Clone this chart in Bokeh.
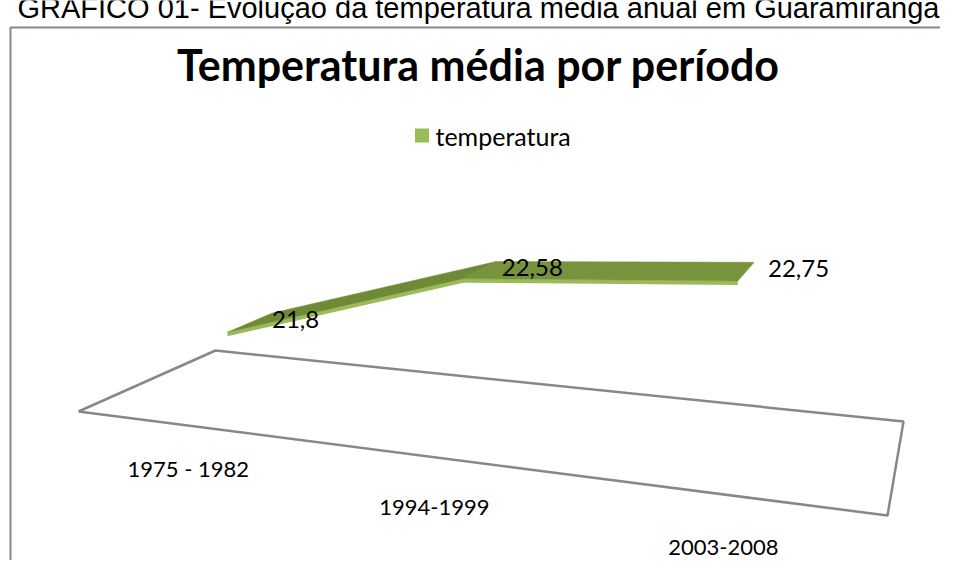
import numpy as np
from bokeh.plotting import figure
from bokeh.models import Range1d
from bokeh.core.properties import value
from bokeh.embed import file_html
from bokeh.resources import INLINE

# ---------------- data ----------------
caption = "GRÁFICO 01- Evolução da temperatura média anual em Guaramiranga"
chart_title = "Temperatura média por período"
series_name = "temperatura"
categories = ["1975 - 1982", "1994-1999", "2003-2008"]
temperatura = [21.8, 22.58, 22.75]
value_labels = ["21,8", "22,58", "22,75"]
axis_floor_value = 21.0

# ---------------- layout (picture pixel space) ----------------
W, H_ = 940, 560
FLOOR_FRONT_LEFT = (78, 411)
FLOOR_FRONT_RIGHT = (887, 515)
FLOOR_BACK_RIGHT = (903, 421)
FLOOR_BACK_LEFT = (215, 350)
RIBBON_FRONT, RIBBON_BACK = 0.28, 0.64
PX_PER_UNIT = 94.0
RIBBON_THICK = 4.0
LABEL_DEPTH = -0.5
LABEL_MAX_Y = 547

TOP_COLOR = "#77933C"
TOP_COLOR_2 = "#6E8A37"
FRONT_COLOR = "#9BBB59"
FLOOR_COLOR = "#888888"
TEXT_FONT = "Lato"


def solve_h(src, dst):
    A, b = [], []
    for (x, y), (X, Y) in zip(src, dst):
        A.append([x, y, 1, 0, 0, 0, -X * x, -X * y]); b.append(X)
        A.append([0, 0, 0, x, y, 1, -Y * x, -Y * y]); b.append(Y)
    h = np.linalg.solve(np.array(A, float), np.array(b, float))
    return np.append(h, 1.0).reshape(3, 3)


HM = solve_h([(0, 0), (1, 0), (1, 1), (0, 1)],
             [FLOOR_FRONT_LEFT, FLOOR_FRONT_RIGHT, FLOOR_BACK_RIGHT, FLOOR_BACK_LEFT])
n = len(categories)
Z_REF = (HM @ np.array([0.5, 0.5, 1.0]))[2]


def project(u, w, lift=0.0):
    s = np.atleast_1d(np.asarray(u, float)) / n
    w = np.broadcast_to(np.asarray(w, float), s.shape)
    lift = np.broadcast_to(np.asarray(lift, float), s.shape)
    vec = HM @ np.vstack([s, w, np.ones_like(s)])
    x = vec[0] / vec[2]
    y = vec[1] / vec[2]
    scale = Z_REF / vec[2]
    return x, y - lift * scale


p = figure(width=W, height=H_, x_range=Range1d(0, W), y_range=Range1d(H_, 0),
           output_backend="svg", toolbar_location=None, min_border=0)
p.axis.visible = False
p.grid.visible = False
p.outline_line_color = None
p.background_fill_color = "white"

# caption above the chart frame (its top is cut, as in the source)
p.text(x=[17], y=[7], text=[caption], text_font=value("Liberation Sans"),
       text_font_size="29px", text_color="black", text_baseline="middle", text_align="left")

# chart frame
p.line(x=[10, 10, 980], y=[620, 27, 27], line_color=FLOOR_COLOR, line_width=2)

# title
p.text(x=[478], y=[64], text=[chart_title], text_font=value(TEXT_FONT), text_font_style="bold",
       text_font_size="43px", text_color="black", text_baseline="middle", text_align="center")

# legend
p.rect(x=[421.5], y=[135], width=14, height=14, fill_color=FRONT_COLOR, line_color=None)
p.text(x=[435], y=[135], text=[series_name], text_font=value(TEXT_FONT), text_font_size="25px",
       text_color="black", text_baseline="middle", text_align="left")

# floor
u_floor = [0, n, n, 0, 0]
w_floor = [0, 0, 1, 1, 0]
fx, fy = project(u_floor, w_floor)
p.line(x=fx, y=fy, line_color=FLOOR_COLOR, line_width=2.5)

# ribbon
u_pts = np.arange(n) + 0.5
lift = (np.array(temperatura) - axis_floor_value) * PX_PER_UNIT
frx, fry = project(u_pts, RIBBON_FRONT, lift)
bkx, bky = project(u_pts, RIBBON_BACK, lift)

# front face (thin strip under front edge)
p.patch(x=np.concatenate([frx, frx[::-1]]), y=np.concatenate([fry, (fry + RIBBON_THICK)[::-1]]),
        fill_color=FRONT_COLOR, line_color=None)
for i in range(n - 1):
    col = TOP_COLOR_2 if i == 0 else TOP_COLOR
    p.patch(x=[frx[i], frx[i + 1], bkx[i + 1], bkx[i]], y=[fry[i], fry[i + 1], bky[i + 1], bky[i]],
            fill_color=col, line_color=col, line_width=0.5)

# value labels
mx = (frx + bkx) / 2
my = (fry + bky) / 2
p.text(x=mx + 22, y=my - 3, text=value_labels, text_font=value(TEXT_FONT), text_font_size="24px",
       text_color="black", text_baseline="middle", text_align="left")

# category labels
lx, _ = project(u_pts, 0.0)
_, ly = project(u_pts, LABEL_DEPTH)
ly = np.minimum(ly, LABEL_MAX_Y)
p.text(x=lx, y=ly, text=categories, text_font=value(TEXT_FONT), text_font_size="22px",
       text_color="black", text_baseline="middle", text_align="center")

open("out.html", "w").write(file_html(p, INLINE))
